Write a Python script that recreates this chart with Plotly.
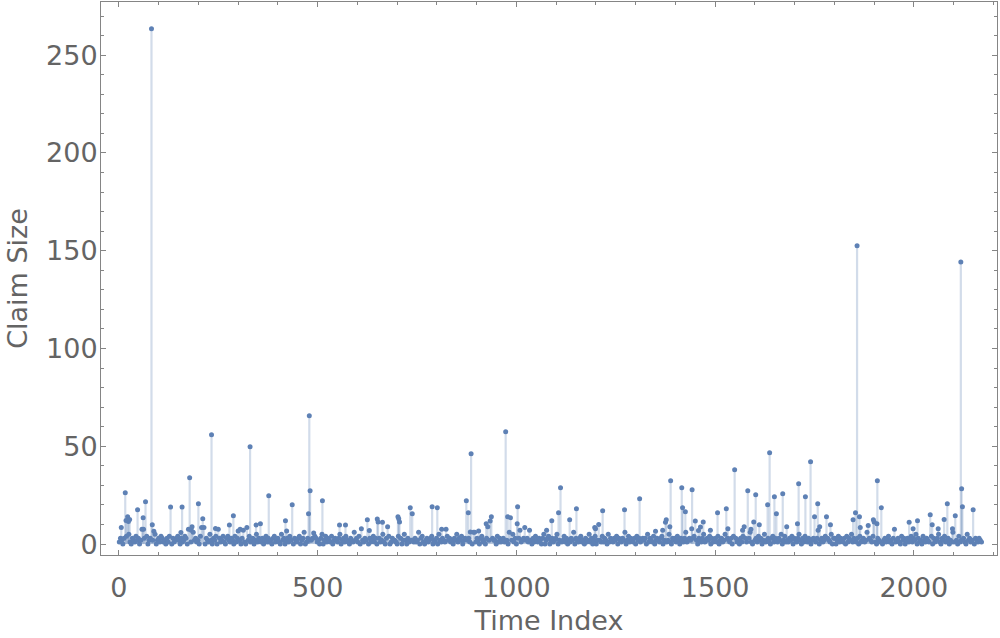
import plotly.graph_objects as go

# ---- data ----
# notable claims: (time index, claim size)
spike_idx = [6, 16, 18, 22, 24, 27, 47, 58, 61, 62, 67, 82, 84, 88, 130, 156, 159, 175, 178, 182,
             184, 200, 208, 211, 214, 233, 243, 250, 278, 288, 300, 305, 322, 330, 345, 356, 377, 419, 422, 436,
             477, 479, 481, 490, 512, 555, 570, 610, 625, 630, 650, 652, 663, 676, 702, 704, 706, 733, 738, 788,
             801, 812, 823, 874, 879, 884, 886, 892, 905, 924, 928, 934, 937, 973, 978, 982, 985, 1002, 1003, 1009,
             1021, 1076, 1089, 1106, 1111, 1134, 1151, 1197, 1199, 1207, 1217, 1272, 1310, 1350, 1368, 1375, 1377, 1386, 1388, 1416,
             1418, 1425, 1441, 1442, 1450, 1458, 1463, 1470, 1488, 1506, 1528, 1532, 1549, 1569, 1573, 1582, 1590, 1597, 1602, 1611,
             1632, 1637, 1649, 1654, 1670, 1680, 1707, 1710, 1727, 1740, 1750, 1758, 1763, 1780, 1790, 1847, 1853, 1857, 1863, 1865,
             1885, 1898, 1900, 1907, 1908, 1918, 1951, 1988, 1998, 2009, 2041, 2046, 2061, 2076, 2084, 2097, 2104, 2118, 2120, 2122,
             2149]
spike_val = [8.4, 26.2, 12.0, 14.0, 11.5, 12.5, 17.5, 7.6, 13.5, 7.6, 21.6, 263.5, 9.9, 6.5, 18.9, 5.9, 18.9, 7.6, 33.9, 7.1,
             8.9, 20.6, 8.4, 12.9, 8.4, 55.9, 8.0, 7.6, 9.7, 14.5, 6.7, 7.6, 8.4, 49.8, 9.7, 10.4, 24.7, 11.9, 6.7, 20.1,
             15.5, 65.6, 27.3, 5.6, 22.1, 9.7, 9.7, 7.8, 12.4, 6.9, 12.8, 11.3, 11.1, 8.9, 14.0, 13.0, 11.3, 18.6, 15.5, 19.1,
             18.6, 7.6, 7.6, 22.1, 16.0, 6.2, 46.2, 6.0, 6.7, 10.4, 8.9, 11.8, 14.0, 57.4, 14.0, 6.0, 13.5, 10.4, 19.1, 7.0,
             8.4, 7.0, 11.9, 16.0, 28.8, 12.4, 18.1, 8.4, 7.8, 10.0, 17.0, 17.5, 23.2, 6.5, 7.0, 11.1, 12.4, 8.9, 32.4, 28.8,
             18.6, 16.5, 7.8, 27.8, 11.8, 6.9, 8.7, 11.3, 7.0, 16.0, 18.1, 7.8, 38.0, 7.0, 8.9, 27.3, 7.6, 11.3, 25.2, 9.9,
             20.1, 46.7, 24.2, 15.5, 25.7, 8.9, 10.4, 30.8, 24.2, 42.1, 14.0, 20.6, 8.9, 14.0, 9.9, 12.4, 16.0, 152.5, 14.0, 8.4,
             9.5, 12.4, 11.3, 10.4, 32.4, 18.6, 7.6, 11.1, 7.8, 11.9, 15.0, 9.9, 7.8, 12.6, 20.6, 7.8, 14.5, 144.2, 28.3, 19.1,
             17.5]

# small everyday claims, every third time index starting at 1
base_step = 3
base_val = [
    1,3,2,0,3,1,4,2,5,1,0,3,2,1,4,2,3,0,2,6,1,3,2,4,0,2,3,1,2,3,5,0,2,3,1,4,3,1,2,0,
    3,1,4,2,0,3,1,2,3,4,2,0,3,1,2,4,3,0,2,3,1,0,6,2,3,1,2,0,4,1,3,2,0,3,2,1,5,2,0,3,
    2,4,0,3,3,1,2,4,1,0,3,4,2,1,3,2,0,4,1,3,2,2,0,3,7,1,0,3,2,4,1,2,3,0,2,5,1,3,2,1,
    3,0,2,4,1,3,1,2,0,3,4,1,2,3,1,0,5,2,3,0,2,3,1,4,2,1,0,3,2,1,3,4,0,2,3,6,0,1,3,2,
    0,2,3,1,4,3,1,2,0,3,5,0,2,4,1,3,2,1,4,0,2,3,2,1,3,5,0,2,3,1,4,2,1,0,3,2,1,6,2,3,
    1,4,0,3,2,1,3,2,4,0,3,1,2,4,1,3,0,2,3,1,2,5,1,0,3,2,4,0,1,3,2,2,1,0,4,2,3,0,2,5,
    2,0,3,1,4,2,2,1,3,1,2,6,0,3,4,1,0,2,3,1,2,3,4,0,2,1,3,0,5,2,1,3,2,1,0,4,2,3,1,2,
    0,3,2,5,1,3,2,4,0,2,3,1,2,3,1,4,0,2,6,1,3,2,0,3,4,1,2,0,3,1,2,5,1,3,2,2,0,4,1,3,
    1,2,3,1,4,2,0,3,1,2,5,1,3,0,2,3,4,1,2,3,0,2,3,1,7,2,0,3,1,4,2,1,3,2,0,3,5,0,2,3,
    4,0,2,3,1,2,3,5,0,2,3,1,2,4,1,3,0,2,1,3,2,6,0,3,2,1,3,4,1,2,0,3,1,2,5,1,3,0,2,4,
    0,2,3,2,1,4,1,3,2,0,5,1,3,2,1,3,2,4,0,3,2,1,3,2,6,0,2,4,1,3,2,1,3,0,4,2,3,1,2,3,
    2,3,0,5,1,3,2,1,4,0,2,3,2,1,3,4,0,2,3,1,2,5,1,0,3,2,3,1,4,2,0,3,2,1,3,6,1,2,3,2,
    1,3,4,1,2,0,3,2,1,3,5,1,2,3,2,4,0,3,1,2,3,1,4,0,2,3,1,2,5,1,3,2,1,3,0,4,2,3,1,2,
    0,3,1,4,2,3,1,2,3,6,1,0,3,2,3,1,4,2,3,0,2,5,1,2,3,1,0,3,4,1,3,2,1,3,2,5,0,2,4,1,
    2,1,3,2,4,0,3,2,1,3,5,2,0,3,1,4,2,1,3,2,0,2,3,4,1,3,7,0,2,3,1,2,4,1,3,2,1,5,0,3,
    3,0,2,4,1,3,2,1,3,0,4,1,3,2,5,1,3,2,1,3,0,4,1,2,3,1,2,6,0,3,2,1,4,3,1,0,3,2,1,5,
    0,2,3,1,3,4,1,2,0,3,5,1,2,3,1,0,4,2,3,0,2,3,1,2,4,1,3,2,5,0,3,1,2,0,4,2,1,3,2,1,
    2,4,0,3,1,2,3,5,1,0,3,2,4,1,2,3,0,2,1,6,1,3,2,0,4,1,2,3,3,1,0,5,2,3,1,2,4,0,3,2,
    1,3,2,1,
]

x_ticks = [0, 500, 1000, 1500, 2000]
y_ticks = [0, 50, 100, 150, 200, 250]

# ---- assemble series ----
series = {1 + base_step * k: float(v) for k, v in enumerate(base_val)}
for i, v in zip(spike_idx, spike_val):
    series[i] = v
xs = sorted(series)
ys = [series[i] for i in xs]

stem_x, stem_y = [], []
for i, v in zip(xs, ys):
    stem_x += [i, i, None]
    stem_y += [0, v, None]

blue = "#5E81B5"
gray_text = "#646464"
frame = "#858585"

fig = go.Figure()
fig.add_trace(go.Scatter(x=stem_x, y=stem_y, mode="lines",
                         line=dict(color="rgba(94,129,181,0.28)", width=2.2),
                         hoverinfo="skip", showlegend=False))
fig.add_trace(go.Scatter(x=xs, y=ys, mode="markers",
                         marker=dict(color=blue, size=5, line=dict(width=0)),
                         showlegend=False))

font = "DejaVu Sans"
fig.update_layout(
    width=1000, height=638,
    margin=dict(l=101, r=3, t=2, b=83),
    paper_bgcolor="white", plot_bgcolor="white",
    font=dict(family=font, size=27, color=gray_text),
    xaxis=dict(
        range=[-45, 2209], tickvals=x_ticks, ticktext=[str(t) for t in x_ticks],
        automargin=False,
        showgrid=False, zeroline=False, showline=True, linecolor=frame, linewidth=1,
        mirror="allticks", ticks="inside", ticklen=5, tickcolor=frame,
        minor=dict(dtick=100, tick0=0, ticks="inside", ticklen=3, tickcolor=frame, showgrid=False),
        tickfont=dict(family=font, size=27, color=gray_text),
        ticklabelstandoff=9,
        title=dict(text="Time Index", font=dict(family=font, size=27, color=gray_text), standoff=8),
    ),
    yaxis=dict(
        range=[-5.6, 277.2], tickvals=y_ticks, ticktext=[str(t) for t in y_ticks],
        automargin=False,
        showgrid=False, zeroline=False, showline=True, linecolor=frame, linewidth=1,
        mirror="allticks", ticks="inside", ticklen=5, tickcolor=frame,
        minor=dict(dtick=10, tick0=0, ticks="inside", ticklen=3, tickcolor=frame, showgrid=False),
        tickfont=dict(family=font, size=27, color=gray_text),
        ticklabelstandoff=-3,
        title=dict(text="Claim Size", font=dict(family=font, size=27, color=gray_text), standoff=10),
    ),
)

fig.write_html("out.html", config={"displayModeBar": False},
               post_script="document.body.style.margin='0';")
